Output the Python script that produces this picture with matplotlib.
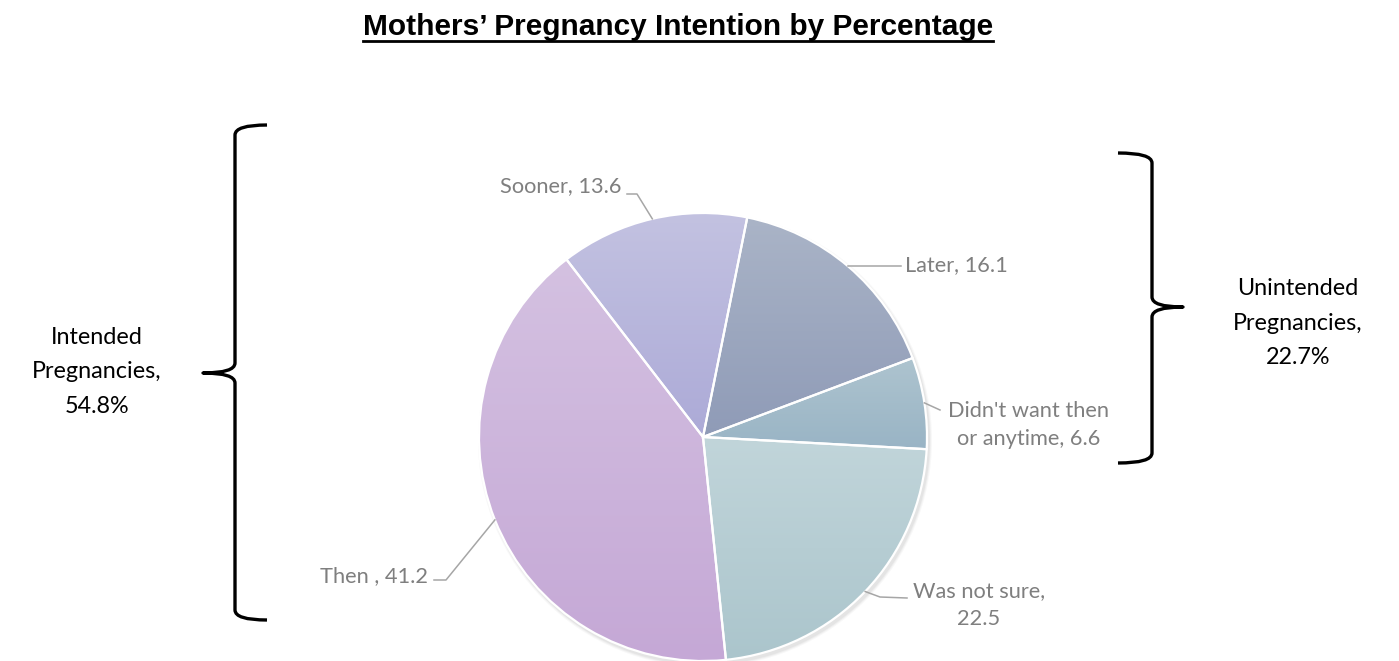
import matplotlib
matplotlib.use("Agg")
import numpy as np
import matplotlib.pyplot as plt
from matplotlib.path import Path
from matplotlib.patches import PathPatch, Circle
from matplotlib.colors import to_rgb

# Data (clockwise from the top)
labels = ["Later", "Didn't want then\nor anytime", "Was not sure", "Then ", "Sooner"]
values = [16.1, 6.6, 22.5, 41.2, 13.6]
top_colors = ["#aab4c7", "#aec4cf", "#c1d5da", "#d4c1e1", "#c3c2e1"]
bottom_colors = ["#8f9bb7", "#99b4c5", "#abc5cc", "#c5a8d6", "#acaad7"]
intended_share = "54.8%"
unintended_share = "22.7%"

W, H = 1399, 661


def Y(y):
    # picture rows (top down) -> data y
    return H - y


fig = plt.figure(figsize=(W / 100, H / 100), dpi=100)
ax = fig.add_axes([0, 0, 1, 1])

cx, cy, r = 703, Y(437), 224

# soft shadow
for k, a in enumerate([0.05, 0.07, 0.09]):
    ax.add_patch(Circle((cx + 2, cy - 3), r + 3 - k, color="#7f7f7f", alpha=a, lw=0, zorder=1))

wedges, _ = ax.pie(values, startangle=78.6, counterclock=False, center=(cx, cy), radius=r,
                   wedgeprops=dict(facecolor="none", edgecolor="white", linewidth=1.6))

for w, c0, c1 in zip(wedges, top_colors, bottom_colors):
    w.set_zorder(4)
    ext = w.get_path().get_extents()
    t = np.linspace(0, 1, 256)[:, None]
    grad = (1 - t) * np.array(to_rgb(c0)) + t * np.array(to_rgb(c1))
    im = ax.imshow(grad[:, None, :], extent=(ext.x0, ext.x1, ext.y0, ext.y1),
                   origin="upper", aspect="auto", zorder=3, interpolation="bilinear")
    im.set_clip_path(w)

# data labels with leader lines
lab_font = dict(family="Lato", fontsize=15.7, color="#7f7f7f")
lead = dict(color="#a6a6a6", lw=1.1, zorder=5)
texts = [f"{l}, {v}" for l, v in zip(labels, values)]
texts[2] = "Was not sure,\n22.5"
# (elbow points in picture px, text pos, ha)
layout = [
    ([(901, None)], (905, 265), "left"),
    ([(940, 410)], (1029, 425), "center"),
    ([(880, 597), (907, 598)], (979, 605), "center"),
    ([(446, 580), (434, 580)], (428, 576), "right"),
    ([(637, 194), (627, 194)], (622, 186), "right"),
]
for w, txt, (pts, tp, ha) in zip(wedges, texts, layout):
    mid = np.deg2rad((w.theta1 + w.theta2) / 2)
    ax_, ay_ = cx + r * np.cos(mid), cy + r * np.sin(mid)
    xs, ys = [ax_], [ay_]
    for px, py in pts:
        xs.append(px)
        ys.append(ay_ if py is None else Y(py))
    ax.plot(xs, ys, **lead)
    ax.text(tp[0], Y(tp[1]), txt, ha=ha, va="center", linespacing=1.5, **lab_font)


def brace(x_line, x_end, x_tip, y_top, y_mid, y_bot, k=10):
    verts = [(x_end, Y(y_top)), (x_line, Y(y_top)), (x_line, Y(y_top + k)),
             (x_line, Y(y_mid - k)), (x_line, Y(y_mid)), (x_tip, Y(y_mid)),
             (x_line, Y(y_mid)), (x_line, Y(y_mid + k)),
             (x_line, Y(y_bot - k)), (x_line, Y(y_bot)), (x_end, Y(y_bot))]
    codes = [Path.MOVETO, Path.CURVE3, Path.CURVE3,
             Path.LINETO, Path.CURVE3, Path.CURVE3,
             Path.CURVE3, Path.CURVE3,
             Path.LINETO, Path.CURVE3, Path.CURVE3]
    ax.add_patch(PathPatch(Path(verts, codes), fill=False, lw=2.4, color="black",
                           capstyle="butt", joinstyle="round", zorder=5))


brace(235, 267, 203, 125, 373, 620)
brace(1152, 1118, 1183, 153, 307, 463)

grp_font = dict(family="Lato", fontsize=16.8, color="black", ha="center", va="center",
                linespacing=1.8)
ax.text(97, Y(372), "Intended\nPregnancies,\n" + intended_share, **grp_font)
ax.text(1298, Y(323), "Unintended\nPregnancies,\n" + unintended_share, **grp_font)

ax.set_xlim(0, W)
ax.set_ylim(0, H)
ax.axis("off")

title = ax.text(678, Y(27), "Mothers\u2019 Pregnancy Intention by Percentage",
                family="Liberation Sans", fontweight="bold", fontsize=21.5,
                ha="center", va="center")
fig.canvas.draw()
bb = title.get_window_extent()
ax.plot([bb.x0, bb.x1], [Y(41), Y(41)], color="black", lw=2)

fig.savefig("out.png", dpi=100)
